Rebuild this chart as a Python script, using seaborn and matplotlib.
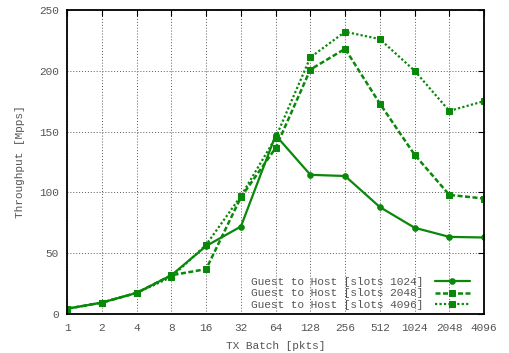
import numpy as np
import pandas as pd
import matplotlib
matplotlib.use('Agg')
import matplotlib.pyplot as plt
import seaborn as sns

batch = [1, 2, 4, 8, 16, 32, 64, 128, 256, 512, 1024, 2048, 4096]
slots_1024 = [4.5, 9.5, 17.5, 32, 56, 72, 147, 114.5, 113.5, 88, 71, 63.5, 63]
slots_2048 = [4.5, 9.5, 17.5, 32, 37, 96, 136.5, 201, 218, 173, 131, 98, 95]
slots_4096 = [4.5, 9.5, 17.5, 30.5, 57, 97, 145, 211, 232, 226, 200, 167, 175]
labels = ['Guest to Host [slots 1024]', 'Guest to Host [slots 2048]', 'Guest to Host [slots 4096]']

sns.set_style('white')
plt.rcParams['font.family'] = ['Liberation Mono', 'DejaVu Sans Mono']
txt = '#555555'
green = '#0a880a'

fig, ax = plt.subplots(figsize=(5.09, 3.53), dpi=100)
fig.subplots_adjust(left=0.132, right=0.951, top=0.972, bottom=0.110)

sns.lineplot(x=batch, y=slots_1024, ax=ax, color=green, lw=1.6, marker='o', ms=4,
             mec=green, label=labels[0])
sns.lineplot(x=batch, y=slots_2048, ax=ax, color=green, lw=1.8, ls=(0, (2, 1)), marker='s', ms=5,
             mec=green, label=labels[1])
sns.lineplot(x=batch, y=slots_4096, ax=ax, color=green, lw=1.6, ls=(0, (1, 1)), marker='s', ms=5,
             mec=green, label=labels[2])

ax.set_xscale('log', base=2)
ax.set_xlim(1, 4096)
ax.set_ylim(0, 250)
ax.set_xticks(batch)
ax.set_xticklabels([str(b) for b in batch])
ax.minorticks_off()
ax.set_yticks(range(0, 251, 50))

ax.grid(True, color='0.35', ls=(0, (1, 2)), lw=0.7)
ax.tick_params(direction='in', length=4, color='black', labelcolor=txt, labelsize=8,
               top=True, right=True, pad=6)
for s in ax.spines.values():
    s.set_color('black')
    s.set_linewidth(1.3)

ax.set_xlabel('TX Batch [pkts]', color=txt, fontsize=8, labelpad=6)
ax.set_ylabel('Throughput [Mpps]', color=txt, fontsize=8, labelpad=10)

leg = ax.legend(loc='lower right', bbox_to_anchor=(0.98, -0.005), frameon=False,
                markerfirst=False, fontsize=8, handlelength=3.2, labelspacing=0.15,
                borderaxespad=0.1, handletextpad=1.0)
for t in leg.get_texts():
    t.set_color(txt)

fig.savefig('out.png', dpi=100)
